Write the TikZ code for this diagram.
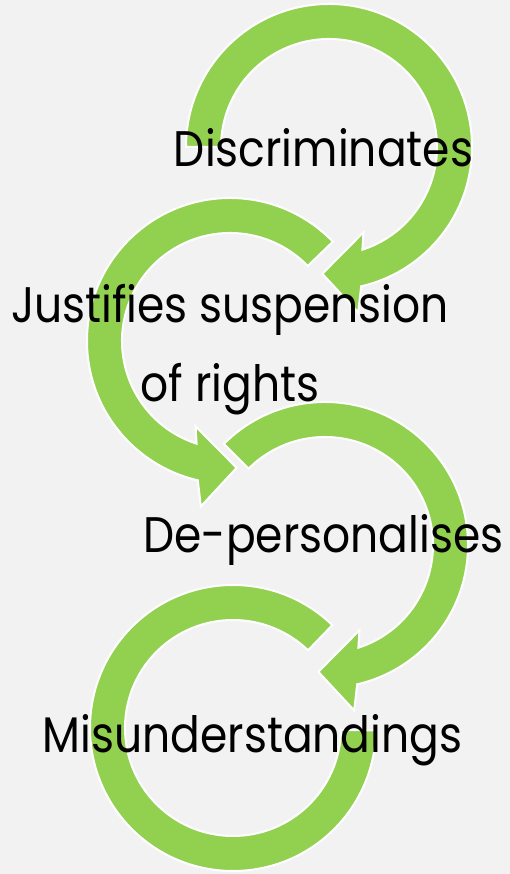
\documentclass[tikz,border=0pt]{standalone}
\usepackage{fontspec}
\setmainfont{Poppins}[FakeStretch=0.88]
\usepackage{tikz}
\usetikzlibrary{calc}
\definecolor{ringgreen}{RGB}{146,208,80}
\definecolor{pagegray}{RGB}{242,242,242}

\begin{document}
\begin{tikzpicture}[x=1pt, y=1pt,
    ringarrow/.style={fill=ringgreen, draw=white, line width=2pt},
    steplabel/.style={anchor=base, inner sep=0pt, align=center, font=\fontsize{50}{79}\selectfont}]
    \fill[pagegray] (0,0) rectangle (510,874);
    \useasboundingbox (0,0) rectangle (510,874);
    \coordinate (c1) at (329,727);
    \coordinate (c2) at (230,533);
    \coordinate (c3) at (325,329);
    \coordinate (c4) at (233,146);
    % rings, top to bottom
    \filldraw[ringarrow] ($(c1)+(180:143pt)$) arc[start angle=180, end angle=-77, radius=143pt] -- ($(c1)+(-80:168pt)$) -- ($(c1)+(-93:127pt)$) -- ($(c1)+(-68:92pt)$) -- ($(c1)+(-72:108pt)$) arc[start angle=-72, end angle=180, radius=108pt] -- cycle;
    \filldraw[ringarrow] ($(c2)+(44:143pt)$) arc[start angle=44, end angle=257, radius=143pt] -- ($(c2)+(260:168pt)$) -- ($(c2)+(273:127pt)$) -- ($(c2)+(248:92pt)$) -- ($(c2)+(252:108pt)$) arc[start angle=252, end angle=44, radius=108pt] -- cycle;
    \filldraw[ringarrow] ($(c3)+(135:143pt)$) arc[start angle=135, end angle=-77, radius=143pt] -- ($(c3)+(-80:168pt)$) -- ($(c3)+(-93:127pt)$) -- ($(c3)+(-68:92pt)$) -- ($(c3)+(-72:108pt)$) arc[start angle=-72, end angle=135, radius=108pt] -- cycle;
    \filldraw[ringarrow] ($(c4)+(46:143pt)$) arc[start angle=46, end angle=359, radius=143pt] -- ($(c4)+(359:108pt)$) arc[start angle=359, end angle=46, radius=108pt] -- cycle;
    % labels
    \node[steplabel] (disc) at (323.5,707) {Discriminates};
    \node[steplabel] (just) at (230,472) {Justifies suspension\\of rights};
    \node[steplabel] (depers) at (323.5,321) {De-personalises};
    \node[steplabel] (misund) at (252.5,121) {Misunderstandings};
\end{tikzpicture}
\end{document}
